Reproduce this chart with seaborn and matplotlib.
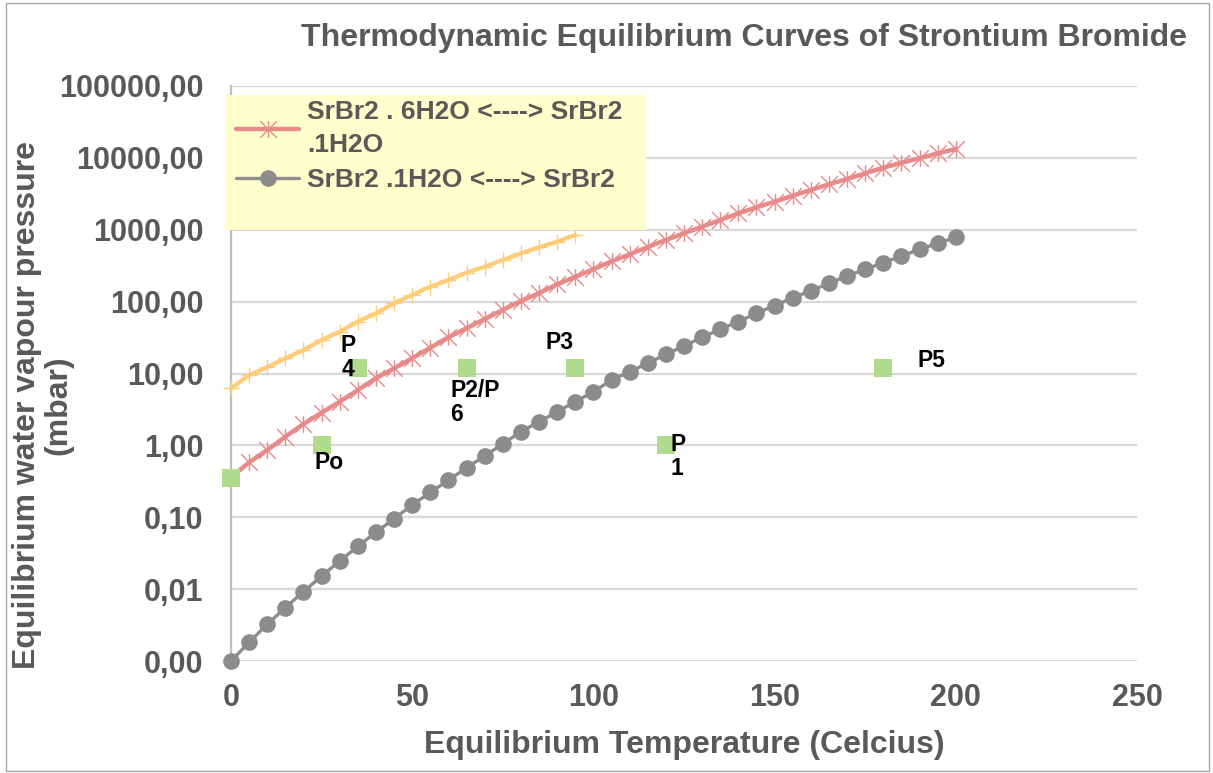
import numpy as np
import pandas as pd
import matplotlib
matplotlib.use("Agg")
import matplotlib.pyplot as plt
from matplotlib.path import Path
from matplotlib.lines import Line2D
from matplotlib.patches import Rectangle
import seaborn as sns

# ---- data -------------------------------------------------------------
temp_hexa = [0, 5, 10, 15, 20, 25, 30, 35, 40, 45, 50, 55, 60, 65, 70, 75, 80,
             85, 90, 95, 100, 105, 110, 115, 120, 125, 130, 135, 140, 145, 150,
             155, 160, 165, 170, 175, 180, 185, 190, 195, 200]
p_hexa_mono = [0.36, 0.58, 0.86, 1.32, 1.98, 2.85, 4.05, 5.89, 8.57, 11.8, 16.3,
               22.9, 31.9, 42.6, 57.3, 76.4, 102, 131, 174, 222, 282, 364, 453,
               575, 720, 893, 1102, 1367, 1694, 2051, 2456, 2977, 3573, 4286,
               5082, 6100, 7300, 8570, 9860, 11580, 13280]

temp_mono = temp_hexa
p_mono_anhydrous = [0.001, 0.00182, 0.00324, 0.00552, 0.0092, 0.0152, 0.0246,
                    0.0394, 0.0618, 0.0955, 0.148, 0.222, 0.327, 0.489, 0.711,
                    1.05, 1.55, 2.13, 2.94, 4.05, 5.58, 8.1, 10.6, 13.9, 18.5,
                    24.1, 31.9, 41.2, 52.6, 68.8, 87.8, 113.5, 141, 180, 227,
                    282, 348, 431, 535, 648, 785]

temp_water = [0, 5, 10, 15, 20, 25, 30, 35, 40, 45, 50, 55, 60, 65, 70, 75,
              80, 85, 90, 95]
p_water = [6.2, 9.5, 12.2, 16.3, 21.2, 29.3, 38.2, 52.6, 68.8, 94.8, 124, 161,
           200, 253, 306, 379, 470, 570, 682, 845]

point_temp = [0, 25, 35, 65, 95, 120, 180]
point_pres = [0.35, 1, 12, 12, 12, 1, 12]
point_labels = ["", "Po", "P\n4", "P2/P\n6", "P3", "P\n1", "P5"]

y_ticks = [0.001, 0.01, 0.1, 1, 10, 100, 1000, 10000, 100000]
x_ticks = [0, 50, 100, 150, 200, 250]

label_hexa = "SrBr2 . 6H2O <----> SrBr2\n.1H2O"
label_mono = "SrBr2 .1H2O <----> SrBr2"
title = "Thermodynamic Equilibrium Curves of Strontium Bromide"
x_title = "Equilibrium Temperature (Celcius)"
y_title = "Equilibrium water vapour pressure\n(mbar)"

# ---- style ------------------------------------------------------------
sns.set_style("white")
plt.rcParams["font.family"] = ["Liberation Sans", "DejaVu Sans"]
plt.rcParams["font.weight"] = "bold"

TEXT = "#595959"
GRID = "#D9D9D9"
RED = "#E68A8A"
GREY = "#8C8C8C"
GOLD = "#FFCC77"
GREEN = "#B0DB8E"

# asterisk marker: X with a vertical bar
asterisk = Path([(0, -1), (0, 1), (-1, -1), (1, 1), (-1, 1), (1, -1)],
                [Path.MOVETO, Path.LINETO] * 3)

fig = plt.figure(figsize=(12.13, 7.73), dpi=100)
ax = fig.add_axes([231 / 1213, 1 - 661 / 773, (1137 - 231) / 1213, (661 - 86) / 773])

df_hexa = pd.DataFrame({"T": temp_hexa, "p": p_hexa_mono})
df_mono = pd.DataFrame({"T": temp_mono, "p": p_mono_anhydrous})
df_water = pd.DataFrame({"T": temp_water, "p": p_water})
df_pts = pd.DataFrame({"T": point_temp, "p": point_pres})

sns.lineplot(data=df_water, x="T", y="p", ax=ax, color=GOLD, lw=3.0,
             marker="+", markersize=11, markeredgewidth=1.0,
             markeredgecolor=GOLD, sort=False, zorder=3)
sns.lineplot(data=df_hexa, x="T", y="p", ax=ax, color=RED, lw=3.2,
             marker=asterisk, markersize=12, markeredgewidth=1.0,
             markeredgecolor=RED, sort=False, zorder=4)
sns.lineplot(data=df_mono, x="T", y="p", ax=ax, color=GREY, lw=2.4,
             marker="o", markersize=12, markeredgewidth=0,
             markerfacecolor=GREY, sort=False, zorder=4)
sns.scatterplot(data=df_pts, x="T", y="p", ax=ax, color=GREEN, marker="s",
                s=150, linewidth=0, zorder=6)
for artist in ax.lines + ax.collections:
    artist.set_clip_on(False)

# point labels, placed relative to each square
offsets = {"Po": (7, -17, "center"), "P\n4": (-10, 10, "center"),
           "P2/P\n6": (-16, -35, "left"), "P3": (-16, 25, "center"),
           "P\n1": (5, -11, "left"), "P5": (48, 7, "center")}
for t, p, lab in zip(point_temp, point_pres, point_labels):
    if not lab:
        continue
    dx, dy, ha = offsets[lab]
    ax.annotate(lab, (t, p), xytext=(dx, dy), textcoords="offset pixels",
                ha=ha, va="center", fontsize=16.5, fontweight="bold",
                color="black", linespacing=1.05, zorder=7)

# axes
ax.set_yscale("log")
ax.set_ylim(0.001, 100000)
ax.set_xlim(0, 250)
ax.set_yticks(y_ticks)
ax.set_yticklabels([f"{v:.2f}".replace(".", ",") for v in y_ticks])
ax.yaxis.set_minor_locator(matplotlib.ticker.NullLocator())
ax.set_xticks(x_ticks)
ax.set_xticklabels([str(v) for v in x_ticks])
ax.tick_params(axis="y", length=6, width=1.5, color="#BFBFBF", pad=14,
               labelsize=22, labelcolor=TEXT)
ax.tick_params(axis="x", length=0, pad=16, labelsize=22, labelcolor=TEXT)
ax.grid(axis="y", color=GRID, lw=1.6)
ax.set_axisbelow(True)
for side in ["top", "right", "bottom"]:
    ax.spines[side].set_visible(False)
ax.spines["left"].set_color("#BFBFBF")
ax.spines["left"].set_linewidth(1.6)

ax.set_xlabel(x_title, fontsize=23, fontweight="bold", color=TEXT, labelpad=12)
ax.set_ylabel("")
fig.text(43 / 1213, 1 - 405 / 773, y_title, rotation=90, ha="center",
         va="center", fontsize=23, fontweight="bold", color=TEXT,
         linespacing=1.05)

fig.text(1187 / 1213, 1 - 38 / 773, title, ha="right", va="center",
         fontsize=23, fontweight="bold", color=TEXT)

# legend block
fig.patches.append(Rectangle((225 / 1213, 1 - 230 / 773), (646 - 225) / 1213,
                             (230 - 95) / 773, transform=fig.transFigure,
                             facecolor="#FFFFCC", edgecolor="none", zorder=8))
handles = [
    Line2D([], [], color=RED, lw=3.2, marker=asterisk, markersize=12,
           markeredgewidth=1.0, markeredgecolor=RED),
    Line2D([], [], color=GREY, lw=2.4, marker="o", markersize=12,
           markeredgewidth=0, markerfacecolor=GREY),
]
leg = fig.legend(handles, [label_hexa, label_mono], loc="upper left",
                 bbox_to_anchor=(236 / 1213, 1 - 100 / 773), frameon=False,
                 fontsize=19, handlelength=2.4, handletextpad=0.3,
                 labelspacing=0.45, borderaxespad=0, borderpad=0)
for txt in leg.get_texts():
    txt.set_color(TEXT)
    txt.set_fontweight("bold")
    txt.set_linespacing(1.45)
leg.set_zorder(9)

# chart border
fig.patches.append(Rectangle((6 / 1213, 2 / 773), 1203 / 1213, 768 / 773,
                             transform=fig.transFigure, facecolor="none",
                             edgecolor="#A6A6A6", lw=1.0, zorder=0))

fig.savefig("out.png", dpi=100, facecolor="white")
